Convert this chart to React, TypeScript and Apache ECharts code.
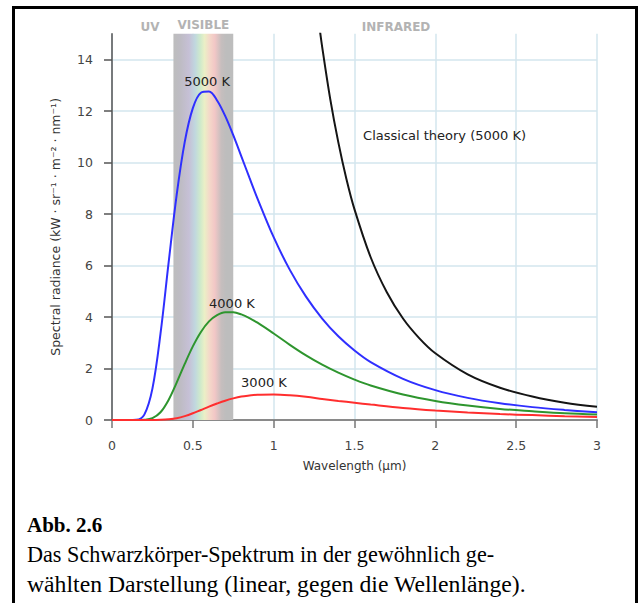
import React, { useEffect, useRef } from "react";
import * as echarts from "echarts";

// Wavelength samples (µm) and spectral radiance (kW · sr⁻¹ · m⁻² · nm⁻¹)
const wavelengths = [0, 0.1, 0.15, 0.2, 0.25, 0.3, 0.35, 0.4, 0.45, 0.5, 0.55, 0.6, 0.65, 0.7, 0.75, 0.8, 0.85, 0.9, 1.0, 1.1, 1.2, 1.3, 1.4, 1.5, 1.6, 1.8, 2.0, 2.2, 2.4, 2.6, 2.8, 3.0];
const radiance5000 = [0, 0, 0.01, 0.21, 1.22, 3.35, 6.10, 8.74, 10.80, 12.11, 12.71, 12.76, 12.41, 11.81, 11.06, 10.24, 9.41, 8.60, 7.10, 5.83, 4.79, 3.94, 3.25, 2.70, 2.25, 1.60, 1.16, 0.86, 0.65, 0.50, 0.39, 0.30];
const radiance4000 = [0, 0, 0, 0.01, 0.07, 0.30, 0.78, 1.45, 2.18, 2.86, 3.42, 3.83, 4.07, 4.18, 4.18, 4.10, 3.96, 3.78, 3.36, 2.92, 2.51, 2.15, 1.84, 1.57, 1.34, 0.99, 0.74, 0.56, 0.43, 0.34, 0.26, 0.21];
const radiance3000 = [0, 0, 0, 0, 0, 0.01, 0.03, 0.07, 0.15, 0.26, 0.39, 0.52, 0.64, 0.75, 0.84, 0.91, 0.95, 0.98, 0.99, 0.96, 0.90, 0.82, 0.74, 0.67, 0.60, 0.47, 0.37, 0.29, 0.23, 0.19, 0.15, 0.12];

const classicalWavelengths = [1.28, 1.3, 1.35, 1.4, 1.45, 1.5, 1.6, 1.7, 1.8, 1.9, 2.0, 2.2, 2.4, 2.6, 2.8, 3.0];
const classicalRadiance = [15.42, 14.49, 12.46, 10.78, 9.36, 8.18, 6.32, 4.96, 3.94, 3.18, 2.59, 1.77, 1.25, 0.91, 0.67, 0.51];

const yTicks = [0, 2, 4, 6, 8, 10, 12, 14];
const visibleBand = [0.38, 0.75];

const seriesNames = ["5000 K", "4000 K", "3000 K", "Classical theory (5000 K)"];
// label anchor [wavelength, radiance]
const labelAnchors = [[0.588, 13.13], [0.742, 4.54], [0.94, 1.44], [1.553, 11.03]];

const regionLabels = ["UV", "VISIBLE", "INFRARED"];

const captionTitle = "Abb. 2.6";
const captionLines = [
  "Das Schwarzkörper-Spektrum in der gewöhnlich ge-",
  "wählten Darstellung (linear, gegen die Wellenlänge).",
];

const SANS = '"DejaVu Sans", sans-serif';
const SERIF = '"Liberation Serif", "Times New Roman", serif';

function pairs(xs: number[], ys: number[]) {
  return xs.map((x, i) => [x, ys[i]]);
}

function curveLabel(i: number, pos: string) {
  return {
    symbol: "circle",
    symbolSize: 0,
    silent: true,
    itemStyle: { color: "transparent" },
    label: {
      show: true,
      position: pos,
      distance: 0,
      formatter: seriesNames[i],
      color: "#222",
      fontSize: 13,
      fontFamily: SANS,
    },
    data: [{ coord: labelAnchors[i] }],
  };
}

export default function App() {
  const ref = useRef<HTMLDivElement>(null);

  useEffect(() => {
    if (!ref.current) return;
    const chart = echarts.init(ref.current, null, { renderer: "svg" });

    const bandGradient = new echarts.graphic.LinearGradient(0, 0, 1, 0, [
      { offset: 0, color: "#bdbdbd" },
      { offset: 0.12, color: "#bebcc4" },
      { offset: 0.26, color: "#c6c0d6" },
      { offset: 0.36, color: "#c0d7df" },
      { offset: 0.45, color: "#cfeacb" },
      { offset: 0.52, color: "#ebefc6" },
      { offset: 0.6, color: "#f4d9c9" },
      { offset: 0.69, color: "#f2c7c6" },
      { offset: 0.8, color: "#c6bebe" },
      { offset: 0.88, color: "#bdbdbd" },
      { offset: 1, color: "#bdbdbd" },
    ]);

    const regionStyle = {
      color: "#b3b3b3",
      fontSize: 12,
      fontWeight: "bold",
      fontFamily: SANS,
    };

    chart.setOption({
      animation: false,
      backgroundColor: "#ffffff",
      grid: { left: 112, right: 41, top: 33.75, bottom: 183, containLabel: false },
      xAxis: {
        type: "value",
        min: 0,
        max: 3,
        interval: 0.5,
        name: "Wavelength (µm)",
        nameLocation: "middle",
        nameGap: 40,
        nameTextStyle: { fontSize: 12, color: "#333", fontFamily: SANS },
        axisLine: { show: true, onZero: false, lineStyle: { color: "#8a8a8a", width: 2 } },
        axisTick: { show: true, length: 8, lineStyle: { color: "#777", width: 1.5 } },
        axisLabel: { margin: 19, fontSize: 12.5, color: "#444", fontFamily: SANS },
        splitLine: { show: true, lineStyle: { color: "#d3e6ee", width: 1.5 } },
      },
      yAxis: {
        type: "value",
        min: 0,
        max: 15,
        interval: 2,
        name: "Spectral radiance (kW · sr⁻¹ · m⁻² · nm⁻¹)",
        nameLocation: "middle",
        nameGap: 50,
        nameRotate: 90,
        nameTextStyle: { fontSize: 12.5, color: "#333", fontFamily: SANS },
        axisLine: { show: true, onZero: false, lineStyle: { color: "#555", width: 1.5 } },
        axisTick: { show: true, length: 8, customValues: yTicks, lineStyle: { color: "#555", width: 1.5 } },
        axisLabel: { customValues: yTicks, margin: 19, fontSize: 12.5, color: "#444", fontFamily: SANS },
        splitLine: { show: true, lineStyle: { color: "#d3e6ee", width: 1.5 } },
      },
      graphic: [
        {
          type: "rect",
          silent: true,
          shape: { x: 13.5, y: 7.5, width: 623, height: 640 },
          style: { fill: "none", stroke: "#000", lineWidth: 3 },
        },
        {
          type: "text",
          x: 150,
          y: 27,
          style: { text: regionLabels[0], fill: regionStyle.color, font: `bold 12px ${SANS}`, align: "center", verticalAlign: "middle" },
        },
        {
          type: "text",
          x: 396,
          y: 27,
          style: { text: regionLabels[2], fill: regionStyle.color, font: `bold 12px ${SANS}`, align: "center", verticalAlign: "middle" },
        },
        {
          type: "text",
          x: 27,
          y: 525,
          style: { text: captionTitle, fill: "#000", font: `bold 21px ${SERIF}`, align: "left", verticalAlign: "middle" },
        },
        {
          type: "text",
          x: 27,
          y: 554,
          style: { text: captionLines[0], fill: "#000", font: `22.2px ${SERIF}`, align: "left", verticalAlign: "middle" },
        },
        {
          type: "text",
          x: 27,
          y: 584,
          style: { text: captionLines[1], fill: "#000", font: `23.7px ${SERIF}`, align: "left", verticalAlign: "middle" },
        },
      ],
      series: [
        {
          type: "line",
          name: "visible band",
          z: -1,
          data: [],
          silent: true,
          markArea: {
            silent: true,
            itemStyle: { color: bandGradient },
            label: {
              show: true,
              position: "top",
              distance: 3,
              formatter: regionLabels[1],
              ...regionStyle,
            },
            data: [[{ xAxis: visibleBand[0], yAxis: 0 }, { xAxis: visibleBand[1], yAxis: 15 }]],
          },
        },
        {
          type: "line",
          name: seriesNames[0],
          data: pairs(wavelengths, radiance5000),
          smooth: 0.35,
          showSymbol: false,
          lineStyle: { color: "#2f2fff", width: 2 },
          itemStyle: { color: "#2f2fff" },
          markPoint: curveLabel(0, "inside"),
        },
        {
          type: "line",
          name: seriesNames[1],
          data: pairs(wavelengths, radiance4000),
          smooth: 0.35,
          showSymbol: false,
          lineStyle: { color: "#2e952e", width: 2 },
          itemStyle: { color: "#2e952e" },
          markPoint: curveLabel(1, "inside"),
        },
        {
          type: "line",
          name: seriesNames[2],
          data: pairs(wavelengths, radiance3000),
          smooth: 0.35,
          showSymbol: false,
          lineStyle: { color: "#ff2e2e", width: 2 },
          itemStyle: { color: "#ff2e2e" },
          markPoint: curveLabel(2, "inside"),
        },
        {
          type: "line",
          name: seriesNames[3],
          data: pairs(classicalWavelengths, classicalRadiance),
          smooth: 0.35,
          clip: true,
          showSymbol: false,
          lineStyle: { color: "#151515", width: 2 },
          itemStyle: { color: "#151515" },
          markPoint: curveLabel(3, "right"),
        },
      ],
    });

    return () => chart.dispose();
  }, []);

  return (
    <div
      ref={ref}
      style={{ position: "fixed", left: 0, top: 0, width: 638, height: 603, background: "#fff" }}
    />
  );
}
